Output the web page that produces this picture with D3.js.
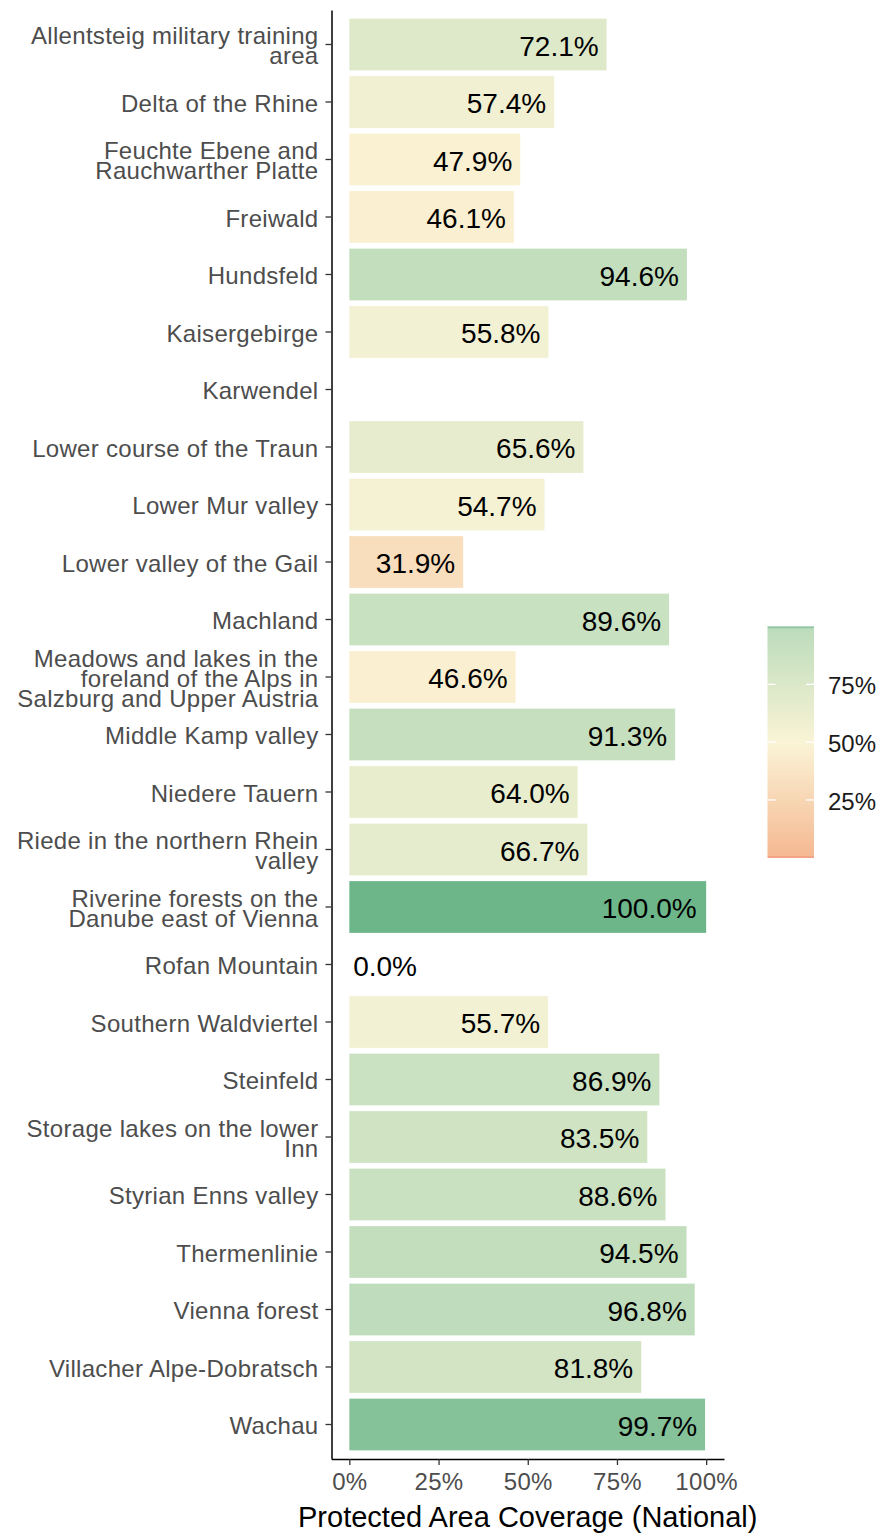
<!DOCTYPE html>
<html lang="en">
<head>
    <meta charset="UTF-8">
    <title>Protected Area Coverage (National)</title>
    <style>
        body { margin: 0; background: #fff; }
        svg { display: block; font-family: "Liberation Sans", Arial, sans-serif; }
        .axis path, .axis line { stroke: #000; stroke-width: 1.5px; }
        .axis .tick line { stroke: #333; stroke-width: 1.3px; }
        .axis text { fill: #4d4d4d; }
    </style>
</head>
<body>
    <svg width="881" height="1536"></svg>
    <script src="https://d3js.org/d3.v7.min.js"></script>
    <script>
        // site names (line breaks as in the chart)
        const categories = [
            "Allentsteig military training\narea",
            "Delta of the Rhine",
            "Feuchte Ebene and\nRauchwarther Platte",
            "Freiwald",
            "Hundsfeld",
            "Kaisergebirge",
            "Karwendel",
            "Lower course of the Traun",
            "Lower Mur valley",
            "Lower valley of the Gail",
            "Machland",
            "Meadows and lakes in the\nforeland of the Alps in\nSalzburg and Upper Austria",
            "Middle Kamp valley",
            "Niedere Tauern",
            "Riede in the northern Rhein\nvalley",
            "Riverine forests on the\nDanube east of Vienna",
            "Rofan Mountain",
            "Southern Waldviertel",
            "Steinfeld",
            "Storage lakes on the lower\nInn",
            "Styrian Enns valley",
            "Thermenlinie",
            "Vienna forest",
            "Villacher Alpe-Dobratsch",
            "Wachau"
        ];
        // coverage share, null = no data
        const coverage = [
            0.721, 0.574, 0.479, 0.461, 0.946, 0.558, null, 0.656, 0.547, 0.319,
            0.896, 0.466, 0.913, 0.640, 0.667, 1.000, 0.000, 0.557, 0.869, 0.835,
            0.886, 0.945, 0.968, 0.818, 0.997
        ];
        const xTicks = [0, 0.25, 0.5, 0.75, 1];
        const legendTicks = [0.25, 0.5, 0.75];
        const colorStops = [0, 0.01, 0.5, 0.99, 1];
        const colorValues = ["#f4866f", "#f5b993", "#faf4d6", "#bcdcbb", "#6db68a"];

        const data = categories.map((c, i) => ({ name: c, value: coverage[i] }));

        const svg = d3.select("svg");
        const pct = d3.format(".0%");
        const pct1 = d3.format(".1%");

        const x = d3.scaleLinear().domain([-0.05, 1.05]).range([331.5, 724]);
        const y = d3.scaleBand().domain(categories).range([10, 1459])
            .paddingInner(0.1).paddingOuter(0.15);
        const color = d3.scaleLinear().domain(colorStops).range(colorValues)
            .interpolate(d3.interpolateRgb);

        // bars
        svg.append("g").selectAll("rect")
            .data(data.filter(d => d.value != null))
            .join("rect")
            .attr("x", x(0))
            .attr("y", d => y(d.name))
            .attr("width", d => x(d.value) - x(0))
            .attr("height", y.bandwidth())
            .attr("fill", d => color(d.value));

        // value labels
        const labels = svg.append("g").selectAll("text")
            .data(data.filter(d => d.value != null))
            .join("text")
            .attr("y", d => y(d.name) + y.bandwidth() / 2)
            .attr("dy", "0.4em")
            .style("font-size", "28px")
            .attr("fill", "#000")
            .text(d => pct1(d.value));
        labels.each(function(d) {
            const w = this.getComputedTextLength();
            if (d.value < 0.1) {
                d3.select(this).attr("text-anchor", "start").attr("x", x(0) + 0.06 * w);
            } else {
                d3.select(this).attr("text-anchor", "end").attr("x", x(d.value) - 0.1 * w);
            }
        });

        // y axis
        const yAxis = svg.append("g")
            .attr("class", "axis")
            .attr("transform", "translate(331.5,0)")
            .call(d3.axisLeft(y).tickSize(6).tickSizeOuter(0).tickPadding(7));
        yAxis.selectAll(".tick text").each(function(d) {
            const lines = d.split("\n");
            const t = d3.select(this).text(null)
                .style("font-size", "24px")
                .style("letter-spacing", "0.3px");
            const lh = 20;
            lines.forEach((ln, i) => {
                t.append("tspan")
                    .attr("x", -13)
                    .attr("y", (i - (lines.length - 1) / 2) * lh)
                    .attr("dy", "0.4em")
                    .text(ln);
            });
        });

        // x axis
        svg.append("g")
            .attr("class", "axis")
            .attr("transform", "translate(0,1459)")
            .call(d3.axisBottom(x).tickValues(xTicks).tickFormat(pct).tickSize(6).tickSizeOuter(0).tickPadding(6))
            .selectAll(".tick text")
            .style("font-size", "24px")
            .style("letter-spacing", "0.3px")
            .attr("dy", "0.8em");

        svg.append("text")
            .attr("x", (331.5 + 724) / 2)
            .attr("y", 1527)
            .attr("text-anchor", "middle")
            .style("font-size", "29px")
            .attr("fill", "#000")
            .text("Protected Area Coverage (National)");

        // legend colour bar
        const lg = d3.scaleLinear().domain([0, 1]).range([857.8, 626.5]);
        const grad = svg.append("defs").append("linearGradient")
            .attr("id", "cbar")
            .attr("x1", 0).attr("x2", 0).attr("y1", 1).attr("y2", 0);
        grad.selectAll("stop")
            .data(d3.range(0, 1.0001, 0.005))
            .join("stop")
            .attr("offset", d => d)
            .attr("stop-color", d => color(d));
        const barX = 767.5, barW = 46.5;
        svg.append("rect")
            .attr("x", barX).attr("y", lg(1))
            .attr("width", barW).attr("height", lg(0) - lg(1))
            .attr("fill", "url(#cbar)");
        const lt = svg.append("g").selectAll("g").data(legendTicks).join("g");
        lt.append("line")
            .attr("x1", barX).attr("x2", barX + 8)
            .attr("y1", d => lg(d)).attr("y2", d => lg(d))
            .attr("stroke", "#fff").attr("stroke-width", 1.3);
        lt.append("line")
            .attr("x1", barX + barW - 8).attr("x2", barX + barW)
            .attr("y1", d => lg(d)).attr("y2", d => lg(d))
            .attr("stroke", "#fff").attr("stroke-width", 1.3);
        lt.append("text")
            .attr("x", 828)
            .attr("y", d => lg(d))
            .attr("dy", "0.4em")
            .style("font-size", "24px")
            .attr("fill", "#1a1a1a")
            .text(d => pct(d));
    </script>
</body>
</html>
